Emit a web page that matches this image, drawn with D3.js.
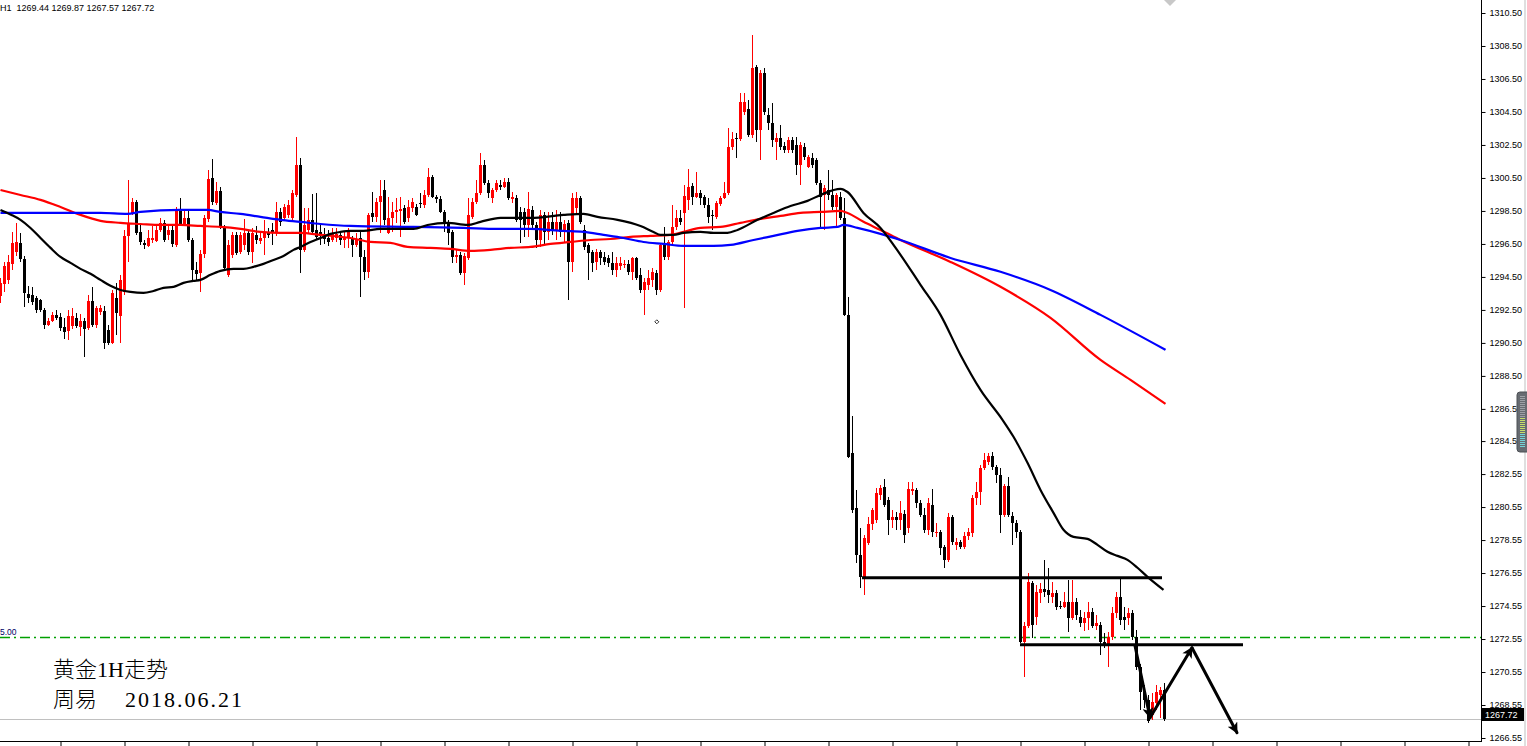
<!DOCTYPE html>
<html><head><meta charset="utf-8">
<script src="https://cdn.jsdelivr.net/npm/d3@7/dist/d3.min.js"></script>
<style>html,body{margin:0;padding:0;background:#fff;overflow:hidden}</style>
</head><body>
<svg id="c" width="1527" height="746"></svg>
<script>
// ---------- DATA (XAUUSD H1) ----------
const opens=[
1293.35,1294.08,1294.32,1295.29,1296.02,1296.56,1295.59,1293.47,1293.41,1293.23,
1293.11,1292.50,1291.60,1291.84,1292.20,1292.08,1291.47,1291.23,1291.53,1292.02,
1291.47,1291.84,1291.41,1293.05,1291.60,1292.38,1292.44,1291.29,1290.50,1293.23,
1292.14,1293.59,1296.99,1298.38,1299.05,1297.23,1296.56,1296.38,1296.74,1296.68,
1297.35,1297.78,1297.05,1297.35,1296.44,1298.62,1297.71,1298.08,1296.74,1294.93,
1294.75,1295.90,1298.02,1300.50,1298.99,1299.71,1297.53,1294.63,1295.84,1297.05,
1296.02,1296.44,1297.17,1296.02,1297.05,1296.68,1296.86,1297.23,1297.35,1297.17,
1298.44,1298.08,1298.26,1298.08,1299.47,1301.29,1296.14,1297.35,1297.96,1297.35,
1297.23,1297.05,1296.86,1296.74,1296.86,1297.05,1296.74,1296.86,1296.86,1296.44,
1296.86,1295.71,1294.81,1298.38,1298.14,1299.05,1299.77,1297.17,1298.08,1298.44,
1298.50,1298.68,1298.08,1298.68,1298.74,1298.99,1298.87,1299.47,1300.56,1299.35,
1299.23,1298.44,1297.78,1297.23,1295.71,1295.84,1294.75,1295.65,1298.14,1299.05,
1299.59,1301.29,1300.20,1299.29,1299.77,1300.08,1299.96,1300.26,1299.23,1299.29,
1298.44,1298.44,1297.65,1298.56,1297.65,1296.74,1298.26,1297.23,1297.84,1297.35,
1297.84,1297.23,1297.78,1295.41,1298.68,1299.29,1297.35,1296.44,1296.02,1295.41,
1296.02,1295.71,1295.65,1295.35,1294.93,1295.17,1295.23,1295.29,1294.81,1295.65,
1294.63,1293.71,1294.02,1294.32,1294.75,1293.71,1296.44,1295.71,1296.62,1297.53,
1298.08,1298.38,1299.17,1300.02,1299.35,1299.59,1299.35,1298.87,1298.26,1298.14,
1298.93,1299.29,1299.59,1302.38,1302.93,1302.87,1304.50,1304.68,1303.11,1307.23,
1303.41,1306.87,1304.32,1303.84,1302.69,1302.93,1302.44,1302.20,1302.81,1302.50,
1301.29,1302.38,1301.17,1301.71,1301.59,1300.20,1299.47,1299.77,1299.47,1298.74,
1299.35,1298.08,1292.20,1283.84,1280.50,1277.65,1276.32,1278.38,1279.53,1279.78,
1281.29,1281.77,1280.99,1279.78,1279.96,1279.78,1280.14,1279.29,1281.53,1281.59,
1280.80,1280.08,1279.17,1280.68,1278.99,1279.05,1278.14,1277.35,1279.96,1278.26,
1278.44,1278.14,1278.80,1278.99,1281.11,1281.47,1282.93,1283.29,1283.65,1282.99,
1282.50,1280.08,1281.84,1280.02,1279.59,1279.05,1272.38,1273.35,1275.96,1273.90,
1275.35,1275.59,1275.53,1275.11,1275.35,1274.56,1274.50,1274.81,1273.84,1274.81,
1273.90,1273.53,1273.84,1274.20,1273.35,1273.41,1272.38,1272.20,1272.68,1274.14,
1275.11,1273.90,1273.84,1274.14,1272.68,1270.87,1269.35,1268.87,1267.96,1268.68,
1269.17,1269.44];
const highs=[
1294.44,1295.41,1295.84,1297.23,1297.78,1297.17,1295.77,1293.96,1293.90,1293.35,
1293.17,1292.62,1292.02,1292.38,1292.50,1292.32,1292.02,1292.50,1292.62,1292.32,
1292.26,1292.02,1293.41,1293.90,1292.74,1292.81,1292.74,1291.60,1293.71,1294.14,
1294.63,1297.35,1300.38,1299.29,1299.17,1297.65,1296.74,1297.35,1297.59,1297.71,
1298.08,1297.96,1297.59,1297.59,1298.74,1299.29,1298.50,1298.56,1296.86,1295.41,
1296.14,1298.26,1300.99,1301.65,1300.26,1299.96,1297.65,1296.74,1297.23,1297.23,
1297.23,1298.02,1297.35,1297.47,1297.59,1297.23,1297.96,1297.47,1297.78,1299.05,
1298.68,1298.93,1299.17,1299.77,1302.99,1301.71,1298.68,1298.68,1299.53,1299.59,
1297.65,1297.47,1297.35,1297.47,1297.47,1297.29,1297.23,1297.47,1296.99,1297.17,
1297.23,1296.14,1298.38,1299.65,1299.29,1300.38,1300.38,1299.35,1299.05,1299.29,
1299.35,1298.87,1299.17,1299.29,1298.93,1299.59,1299.77,1301.11,1300.68,1299.47,
1299.41,1298.56,1297.96,1297.35,1296.14,1296.02,1295.96,1299.29,1299.29,1300.38,
1302.02,1301.59,1300.38,1299.90,1300.38,1300.38,1300.50,1300.50,1299.65,1299.47,
1298.74,1298.68,1299.65,1298.80,1297.84,1298.56,1298.44,1298.44,1298.44,1298.56,
1298.44,1297.96,1297.96,1299.59,1299.65,1299.41,1297.65,1296.56,1296.14,1296.20,
1296.14,1296.02,1295.84,1296.02,1295.71,1295.71,1295.53,1295.53,1295.71,1295.71,
1295.05,1294.44,1294.93,1295.05,1294.93,1296.56,1297.53,1296.74,1298.87,1298.56,
1298.56,1300.08,1301.05,1300.20,1300.87,1299.77,1299.47,1299.29,1298.56,1299.11,
1299.41,1300.26,1303.50,1303.29,1303.23,1305.65,1305.65,1305.23,1309.17,1307.35,
1307.05,1307.17,1304.75,1305.05,1303.23,1303.71,1302.69,1302.99,1302.99,1302.99,
1302.69,1302.62,1301.90,1302.02,1301.71,1300.38,1300.08,1300.99,1300.38,1299.59,
1299.65,1299.29,1293.29,1286.08,1281.59,1279.29,1278.87,1279.96,1280.50,1281.71,
1281.90,1282.26,1281.17,1280.38,1280.26,1280.93,1280.38,1282.08,1282.08,1281.71,
1280.99,1280.50,1281.11,1281.65,1279.59,1279.17,1278.26,1280.20,1280.08,1278.68,
1278.56,1279.05,1279.29,1281.29,1282.08,1283.11,1283.84,1283.84,1283.90,1283.11,
1282.93,1281.96,1282.38,1280.26,1279.78,1279.17,1273.59,1276.56,1276.08,1275.84,
1275.96,1277.35,1276.87,1276.02,1275.53,1274.87,1275.41,1276.14,1276.14,1275.05,
1274.32,1274.20,1274.81,1274.44,1274.02,1273.59,1272.93,1272.99,1274.50,1275.41,
1276.26,1274.50,1274.44,1274.32,1273.11,1271.05,1269.77,1269.17,1269.29,1269.77,
1269.65,1269.87];
const lows=[
1292.93,1293.59,1294.08,1294.93,1295.77,1295.41,1292.69,1292.93,1292.81,1292.32,
1292.38,1291.35,1291.53,1291.78,1291.90,1291.23,1290.74,1290.68,1291.35,1291.41,
1290.92,1289.65,1291.29,1291.47,1291.41,1292.20,1290.14,1290.38,1290.44,1290.99,
1290.50,1293.41,1295.41,1298.26,1297.05,1296.44,1296.20,1296.32,1296.56,1296.62,
1297.23,1296.62,1296.74,1296.32,1296.32,1297.59,1297.59,1296.62,1294.32,1294.26,
1293.59,1295.65,1297.84,1298.86,1298.86,1297.41,1294.87,1294.51,1295.65,1295.84,
1295.90,1296.14,1295.84,1295.35,1296.50,1296.50,1295.84,1296.86,1296.44,1296.99,
1297.59,1297.90,1298.08,1297.96,1299.35,1294.75,1296.02,1297.17,1297.11,1296.74,
1296.44,1296.50,1296.38,1296.62,1296.62,1296.44,1296.26,1296.26,1295.71,1296.32,
1293.29,1294.32,1294.44,1297.84,1297.84,1297.17,1297.65,1297.11,1297.23,1297.78,
1296.93,1297.71,1297.84,1298.44,1298.20,1298.68,1298.68,1299.35,1299.29,1298.99,
1298.38,1297.23,1296.44,1295.35,1295.35,1294.63,1294.02,1295.53,1298.02,1298.93,
1299.47,1300.08,1299.29,1298.99,1299.65,1299.77,1299.90,1299.17,1298.99,1297.84,
1296.56,1296.93,1296.93,1297.35,1296.26,1296.32,1296.44,1296.74,1297.05,1296.74,
1296.93,1296.62,1293.11,1294.81,1298.26,1297.71,1296.14,1294.32,1294.81,1294.93,
1295.23,1295.23,1295.11,1294.63,1294.51,1294.93,1295.05,1294.63,1294.32,1294.32,
1293.53,1292.20,1293.71,1293.90,1293.41,1293.59,1295.53,1295.53,1296.44,1297.35,
1297.65,1292.62,1298.56,1298.87,1299.29,1298.87,1298.68,1297.78,1297.35,1298.02,
1298.80,1299.23,1299.47,1302.20,1301.71,1302.75,1304.32,1302.99,1302.93,1302.69,
1301.59,1304.32,1303.41,1302.38,1301.59,1302.20,1302.02,1302.02,1302.02,1300.68,
1300.08,1301.59,1301.11,1301.11,1300.08,1297.53,1297.35,1299.17,1298.56,1297.47,
1297.96,1292.14,1283.53,1280.20,1277.17,1275.65,1275.23,1278.26,1279.17,1279.59,
1280.99,1280.56,1278.87,1279.29,1279.17,1279.17,1278.38,1278.99,1281.29,1280.50,
1279.96,1278.99,1278.87,1278.74,1278.74,1277.65,1276.87,1277.23,1278.26,1277.96,
1278.02,1278.02,1278.56,1278.74,1280.68,1280.68,1282.81,1283.11,1282.81,1282.02,
1278.99,1279.96,1279.96,1278.26,1278.68,1272.32,1270.26,1273.23,1272.62,1273.41,
1274.75,1275.11,1274.75,1274.75,1274.32,1274.38,1274.44,1272.99,1273.72,1273.72,
1273.29,1273.05,1273.11,1273.23,1273.11,1271.60,1272.02,1270.87,1272.50,1273.84,
1273.41,1273.11,1273.41,1272.50,1270.68,1268.26,1268.38,1267.47,1267.65,1268.26,
1267.78,1267.57];
const closes=[
1294.14,1295.17,1295.41,1296.56,1296.62,1295.59,1293.53,1293.23,1292.99,1292.50,
1292.50,1291.60,1291.84,1292.20,1292.02,1291.41,1291.17,1292.14,1292.14,1291.53,
1291.84,1291.35,1293.05,1291.60,1292.62,1292.62,1290.50,1290.50,1293.53,1292.32,
1294.32,1296.99,1297.78,1299.05,1297.17,1296.62,1296.44,1296.86,1296.86,1297.35,
1297.78,1296.74,1297.35,1296.50,1298.62,1297.71,1298.08,1296.74,1294.93,1294.69,
1295.90,1298.08,1300.44,1299.05,1299.71,1297.53,1295.05,1296.44,1297.05,1295.96,
1297.05,1297.17,1296.02,1297.17,1296.74,1296.86,1297.17,1297.05,1297.17,1298.44,
1297.84,1298.74,1298.87,1299.59,1301.29,1296.14,1297.65,1297.96,1297.23,1296.93,
1296.99,1296.80,1296.62,1297.17,1297.11,1296.74,1296.86,1297.23,1296.44,1296.74,
1295.71,1294.81,1298.26,1298.14,1299.05,1299.41,1297.96,1298.08,1298.44,1298.56,
1298.62,1297.84,1298.74,1299.05,1298.26,1298.93,1299.47,1300.56,1299.35,1299.23,
1298.44,1297.78,1297.17,1295.71,1295.84,1294.75,1295.77,1298.26,1299.05,1299.59,
1301.29,1300.20,1299.59,1299.77,1300.20,1299.96,1300.26,1299.29,1299.35,1297.96,
1297.96,1297.65,1298.62,1297.65,1296.74,1298.26,1297.23,1297.84,1297.35,1297.84,
1297.23,1297.71,1295.41,1299.29,1299.29,1297.84,1296.32,1295.96,1295.35,1296.02,
1295.65,1295.41,1295.35,1294.93,1295.35,1295.35,1295.29,1294.81,1295.65,1294.44,
1293.71,1294.20,1294.44,1294.81,1293.71,1296.44,1295.71,1296.62,1297.53,1298.08,
1297.84,1299.41,1299.96,1299.35,1299.59,1299.29,1298.87,1298.14,1298.20,1298.99,
1299.29,1299.59,1302.38,1302.87,1302.87,1305.11,1305.11,1303.11,1307.17,1303.41,
1306.87,1304.50,1303.84,1302.81,1302.93,1302.38,1302.20,1302.81,1302.20,1301.29,
1302.50,1301.78,1301.78,1301.29,1300.20,1299.35,1299.90,1299.47,1298.74,1299.47,
1298.08,1292.20,1283.59,1280.38,1277.65,1276.32,1278.68,1279.53,1280.38,1281.41,
1281.71,1280.68,1279.78,1279.96,1279.78,1280.20,1278.87,1281.65,1281.65,1280.80,
1280.08,1279.17,1280.80,1279.05,1279.05,1278.08,1277.35,1279.96,1278.44,1278.44,
1278.14,1278.80,1279.05,1281.11,1281.47,1282.93,1283.41,1283.65,1282.99,1282.50,
1280.08,1281.84,1280.08,1279.59,1279.05,1272.38,1273.35,1276.02,1273.41,1275.41,
1275.59,1275.41,1275.23,1275.35,1274.50,1274.50,1274.81,1273.84,1274.81,1274.02,
1273.53,1273.84,1274.20,1273.35,1273.53,1272.38,1272.20,1272.68,1274.14,1275.11,
1273.72,1273.72,1274.14,1272.68,1270.87,1269.35,1268.87,1267.59,1268.75,1269.35,
1269.47,1267.72];

// moving averages: [bar index, price]
const maBlack=[[0,1298.56],[2.75,1298.26],[5,1297.96],[7.5,1297.47],[10,1296.86],[12.5,1296.26],[15,1295.71],[17.5,1295.35],[20,1294.99],[22.5,1294.69],[25,1294.32],[27.5,1293.96],[30,1293.71],[32.5,1293.59],[35.75,1293.53],[38.25,1293.65],[40.75,1293.84],[43.25,1293.90],[45.75,1294.14],[48.25,1294.26],[50,1294.32],[52.5,1294.63],[55,1294.87],[58.25,1294.99],[60.75,1294.99],[63.25,1295.11],[65.75,1295.29],[68.25,1295.53],[70.75,1295.77],[73.25,1296.14],[75,1296.32],[77.5,1296.62],[80,1296.86],[82.5,1297.11],[85,1297.23],[87.5,1297.29],[90.75,1297.29],[95,1297.41],[103.25,1297.41],[106.75,1297.65],[111.75,1297.78],[116.75,1297.65],[120,1297.84],[125,1298.08],[132.5,1298.08],[140.75,1298.26],[145.75,1298.32],[149.25,1298.14],[154.25,1297.96],[160,1297.59],[163.25,1297.23],[165,1297.05],[168.25,1297.05],[170.75,1297.17],[175,1297.23],[178.25,1297.17],[181.75,1297.17],[184.25,1297.35],[189.25,1297.96],[193.25,1298.38],[197.5,1298.80],[201.75,1299.11],[205,1299.47],[210,1299.84],[211.75,1299.65],[215.75,1298.38],[220,1297.47],[225,1295.84],[230,1294.02],[235,1292.20],[240,1289.77],[245,1287.65],[250.5,1285.84],[253.25,1284.81],[256.75,1283.23],[260,1281.59],[263.25,1280.20],[265.75,1279.17],[268.25,1278.74],[271.75,1278.62],[274.25,1278.26],[276.75,1277.84],[279.25,1277.59],[281.75,1277.35],[284.25,1276.87],[286.75,1276.32],[290.75,1275.53]];
const maRed=[[0,1299.77],[5,1299.47],[10,1299.17],[15,1298.74],[20,1298.26],[25,1297.90],[30,1297.78],[35,1297.71],[40,1297.65],[45,1297.65],[50,1297.59],[55,1297.53],[60,1297.41],[65,1297.23],[70,1297.17],[75,1297.17],[80,1297.05],[87.5,1296.86],[92.5,1296.62],[97.5,1296.56],[101.75,1296.32],[107.5,1296.26],[112.5,1296.20],[117.5,1296.08],[122.5,1296.14],[127.5,1296.26],[132.5,1296.32],[137.5,1296.50],[142.5,1296.62],[147.5,1296.74],[152.5,1296.80],[157.5,1296.93],[162.5,1296.99],[167.5,1297.05],[170.75,1297.23],[175,1297.47],[180,1297.53],[185,1297.78],[190,1298.02],[195,1298.20],[200,1298.38],[205,1298.44],[210,1298.50],[211.75,1298.38],[215.75,1297.84],[220,1297.35],[225,1296.74],[237.5,1295.41],[250,1293.90],[262.5,1292.02],[275,1289.47],[282.5,1288.26],[291.25,1286.81]];
const maBlue=[[0,1298.38],[12.5,1298.38],[25,1298.38],[31.75,1298.32],[35,1298.44],[45,1298.56],[51.75,1298.56],[55,1298.44],[60,1298.32],[65,1298.14],[70,1297.96],[75,1297.84],[80,1297.71],[87.5,1297.59],[103.25,1297.53],[115.75,1297.47],[124.25,1297.41],[132.5,1297.41],[140.75,1297.29],[145.75,1297.23],[150.75,1297.05],[155.75,1296.86],[160.75,1296.62],[165.75,1296.50],[170.75,1296.38],[178.25,1296.38],[182.5,1296.44],[188.25,1296.74],[193.25,1296.99],[199.25,1297.29],[205,1297.47],[209.25,1297.53],[210.75,1297.65],[214.25,1297.47],[220,1297.11],[225,1296.74],[237.5,1295.65],[250,1294.81],[262.5,1293.71],[275,1292.20],[291.25,1290.08]];

// drawn objects
const supportLines=[[215.5,290.5,1276.26],[255,310.75,1272.20]]; // [from bar, to bar, price]
const greenLevel=1272.68;
const greenLabel="5.00";
const lastPrice=1267.72;
const arrowPath=[[283.75,1272.14],[287.5,1267.78],[298,1272.02],[309.25,1266.87]];
const markerPts=[[164.2,1291.78]];

// axis tick labels
const yTickLabels=["1310.50","1308.50","1306.50","1304.50","1302.50","1300.50","1298.50","1296.50","1294.50","1292.50","1290.50","1288.50","1286.50","1284.55","1282.55","1280.55","1278.55","1276.55","1274.55","1272.55","1270.55","1268.55","1266.55"];
const xTickBars=[15,31,47,63,79,95,111,127,143,159,175,191,207,223,239,255,271,287,303,319,335,351,367];

const header="H1  1269.44 1269.87 1267.57 1267.72";
const title1="黄金1H走势";
const title2a="周易";
const title2b="2018.06.21";

// ---------- CHART ----------
const svg=d3.select('#c');
const PW=1481, PB=741;
const x=d3.scaleLinear().domain([0,370.25]).range([0,PW]);
const y=d3.scaleLinear().domain([1266.55,1310.5]).range([738,13]);

svg.append('rect').attr('width',1527).attr('height',746).attr('fill','#fff');
const defs=svg.append('defs');
defs.append('clipPath').attr('id','plot').append('rect').attr('x',0).attr('y',0).attr('width',PW).attr('height',PB);
defs.append('marker').attr('id','ah').attr('viewBox','0 0 10 10').attr('refX',9).attr('refY',5)
  .attr('markerWidth',4.2).attr('markerHeight',3.6).attr('orient','auto')
  .append('path').attr('d','M0,0 L10,5 L0,10 L2.5,5 z').attr('fill','#000');

const plot=svg.append('g').attr('clip-path','url(#plot)');

// current price line (grey)
plot.append('line').attr('x1',0).attr('x2',PW).attr('y1',Math.round(y(lastPrice))+0.5).attr('y2',Math.round(y(lastPrice))+0.5)
  .attr('stroke','#c0c0c0').attr('stroke-width',1);

// green dash-dot level
plot.append('line').attr('x1',0).attr('x2',PW).attr('y1',Math.round(y(greenLevel))+0.5).attr('y2',Math.round(y(greenLevel))+0.5)
  .attr('stroke','#00a000').attr('stroke-width',1.3).attr('stroke-dasharray','10,4,2,4');
plot.append('text').attr('x',0).attr('y',Math.round(y(greenLevel))-2).text(greenLabel)
  .attr('font-family','Liberation Sans, Arial, sans-serif').attr('font-size','8.5px').attr('fill','#000066');

// candles
const idx=d3.range(opens.length);
const cg=plot.append('g').attr('shape-rendering','crispEdges');
idx.forEach(i=>{
  const o=opens[i],c=closes[i],h=highs[i],l=lows[i];
  const col=c>o?'#ff0000':'#000000';
  const cx=Math.round(x(i));
  const yh=Math.round(y(Math.max(h,o,c))), yl=Math.round(y(Math.min(l,o,c)));
  cg.append('rect').attr('x',cx).attr('width',1).attr('y',yh).attr('height',Math.max(1,yl-yh)).attr('fill',col);
  const t=Math.round(y(Math.max(o,c))), b=Math.round(y(Math.min(o,c)));
  cg.append('rect').attr('x',cx-1).attr('width',3).attr('y',t).attr('height',Math.max(1,b-t)).attr('fill',col);
});

// moving averages
const line=d3.line().x(d=>x(d[0])+0.5).y(d=>y(d[1])).curve(d3.curveMonotoneX);
[[maRed,'#ff0000'],[maBlue,'#0000ff'],[maBlack,'#000000']].forEach(([d,col])=>{
  plot.append('path').attr('d',line(d)).attr('fill','none').attr('stroke',col).attr('stroke-width',2.2);
});

// support / resistance lines
supportLines.forEach(([a,b,p])=>{
  plot.append('line').attr('x1',x(a)).attr('x2',x(b)).attr('y1',y(p)).attr('y2',y(p))
    .attr('stroke','#000').attr('stroke-width',3);
});

// arrows
for(let k=0;k<arrowPath.length-1;k++){
  const a=arrowPath[k],b=arrowPath[k+1];
  plot.append('line').attr('x1',x(a[0])).attr('y1',y(a[1])).attr('x2',x(b[0])).attr('y2',y(b[1]))
    .attr('stroke','#000').attr('stroke-width',3).attr('stroke-linecap','round').attr('marker-end','url(#ah)');
}

// small marker
markerPts.forEach(([i,p])=>{
  const cx=x(i),cy=y(p);
  plot.append('path').attr('d',`M${cx},${cy-2}L${cx+2},${cy}L${cx},${cy+2}L${cx-2},${cy}Z`).attr('fill','#fff').attr('stroke','#000').attr('stroke-width',0.8);
});

// grey diamond at top
plot.append('path').attr('d',`M${x(292.5)-6},0L${x(292.5)},6L${x(292.5)+6},0Z`).attr('fill','#c8c8c8');

// axes
const yAx=d3.axisRight(y).tickValues(yTickLabels.map(Number)).tickFormat((d,i)=>yTickLabels[i])
  .tickSize(4).tickPadding(4).tickSizeOuter(0);
const ga=svg.append('g').attr('transform',`translate(${PW+0.5},0)`).call(yAx);
ga.select('.domain').remove();
ga.selectAll('text').attr('font-family','Liberation Sans, Arial, sans-serif').attr('font-size','9px').attr('fill','#000');
ga.selectAll('line').attr('stroke','#000');

const xAx=d3.axisBottom(x).tickValues(xTickBars).tickFormat('').tickSize(5).tickSizeOuter(0);
const gx=svg.append('g').attr('transform',`translate(0.5,${PB+0.5})`).call(xAx);
gx.select('.domain').remove();
gx.selectAll('line').attr('stroke','#000');

svg.append('line').attr('x1',PW+0.5).attr('x2',PW+0.5).attr('y1',0).attr('y2',PB+1).attr('stroke','#000');
svg.append('line').attr('x1',0).attr('x2',PW+1).attr('y1',PB+0.5).attr('y2',PB+0.5).attr('stroke','#000');

// right border
svg.append('line').attr('x1',1525).attr('x2',1525).attr('y1',0).attr('y2',746).attr('stroke','#d4d4d4').attr('stroke-width',1.5);

// last price label
const ylp=y(lastPrice);
svg.append('rect').attr('x',PW+1).attr('y',Math.round(ylp)-11).attr('width',1524-PW-1).attr('height',13).attr('fill','#000');
svg.append('text').attr('x',PW+4).attr('y',Math.round(ylp)-1.5).text(lastPrice.toFixed(2))
  .attr('font-family','Liberation Sans, Arial, sans-serif').attr('font-size','9px').attr('fill','#fff');

// scroll widget
const sw=svg.append('g');
sw.append('rect').attr('x',1517).attr('y',392).attr('width',14).attr('height',60).attr('rx',3).attr('fill','#676b71').attr('stroke','#4d5055');
for(let yy=396; yy<448; yy+=2){
  const col= yy<418?'#9da1a6':(yy<434?'#c6df6a':'#74d3d6');
  sw.append('rect').attr('x',1520).attr('y',yy).attr('width',5).attr('height',1).attr('fill',col);
}

// header
svg.append('text').attr('x',0).attr('y',11).text(header).style('white-space','pre')
  .attr('font-family','Liberation Sans, Arial, sans-serif').attr('font-size','9px').attr('fill','#000');

// titles
const tf='"Liberation Serif","Noto Sans CJK SC",serif';
svg.append('text').attr('x',53).attr('y',677).text(title1).attr('font-family',tf).attr('font-size','22px').attr('font-weight',300).attr('fill','#000');
svg.append('text').attr('x',53).attr('y',707).text(title2a).attr('font-family',tf).attr('font-size','22px').attr('font-weight',300).attr('fill','#000');
svg.append('text').attr('x',125).attr('y',707).text(title2b).attr('font-family',tf).attr('font-size','22px').attr('fill','#000')
  .attr('textLength',117).attr('lengthAdjust','spacing');
</script>
</body></html>
